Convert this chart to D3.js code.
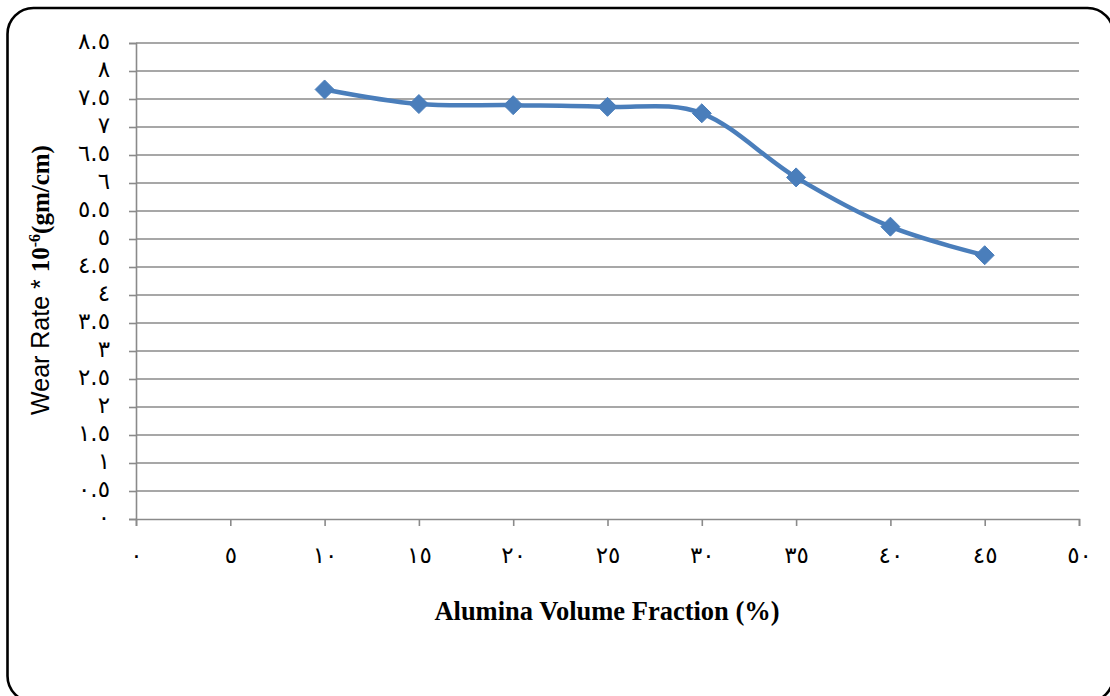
<!DOCTYPE html>
<html>
<head>
<meta charset="utf-8">
<script src="https://cdn.jsdelivr.net/npm/d3@7"></script>
<style>
  body { margin: 0; background: #fff; }
  svg { display: block; }
</style>
</head>
<body>
<div class="chart"></div>
<script>
// DATA
var fractions = [10, 15, 20, 25, 30, 35, 40, 45];
var wearRates = [7.67, 7.41, 7.39, 7.36, 7.245, 6.10, 5.22, 4.71];
var xTicks = [0, 5, 10, 15, 20, 25, 30, 35, 40, 45, 50];
var yTicks = [0, 0.5, 1, 1.5, 2, 2.5, 3, 3.5, 4, 4.5, 5, 5.5, 6, 6.5, 7, 7.5, 8, 8.5];

var width = 1110, height = 696;

// arabic-indic digits for the tick labels
var arabicDigits = '٠١٢٣٤٥٦٧٨٩';
var toArabic = function (v) {
  return String(v).replace(/[0-9]/g, function (c) { return arabicDigits[+c]; });
};

var svg = d3.select('.chart').append('svg')
  .attr('width', width)
  .attr('height', height);

// outer rounded frame
svg.append('rect')
  .attr('x', 7.5).attr('y', 8)
  .attr('width', 1106).attr('height', 694)
  .attr('rx', 26).attr('ry', 26)
  .attr('fill', '#fff')
  .attr('stroke', '#000')
  .attr('stroke-width', 2.6);

var x = d3.scaleLinear().domain([0, 50]).range([136, 1079]);
var y = d3.scaleLinear().domain([0, 8.5]).range([519, 43]);

// gridlines
svg.append('g').selectAll('line')
  .data(yTicks.filter(function (d) { return d > 0; }))
  .enter().append('line')
  .attr('x1', x(0)).attr('x2', x(50))
  .attr('y1', function (d) { return y(d); })
  .attr('y2', function (d) { return y(d); })
  .attr('stroke', '#8a8a8a')
  .attr('stroke-width', 1.6);

// axes
var yAxis = svg.append('g')
  .attr('transform', 'translate(' + x(0) + ',0)')
  .call(d3.axisLeft(y).tickValues(yTicks).tickSize(7).tickPadding(19).tickFormat(toArabic));

var xAxis = svg.append('g')
  .attr('transform', 'translate(0,' + y(0) + ')')
  .call(d3.axisBottom(x).tickValues(xTicks).tickSize(7).tickPadding(20).tickFormat(toArabic));

[xAxis, yAxis].forEach(function (a) {
  a.select('.domain').attr('stroke', '#8a8a8a').attr('stroke-width', 1.6);
  a.selectAll('.tick line').attr('stroke', '#8a8a8a').attr('stroke-width', 1.6);
  a.selectAll('.tick text')
    .attr('fill', '#000')
    .style('font-family', '"DejaVu Sans", sans-serif')
    .style('font-size', '23px')
    .style('letter-spacing', '3px');
});
xAxis.selectAll('.tick text').attr('dy', '0.72em');
yAxis.selectAll('.tick text').attr('dy', '0.22em');

// the series
var points = fractions.map(function (f, i) { return [f, wearRates[i]]; });

var line = d3.line()
  .x(function (d) { return x(d[0]); })
  .y(function (d) { return y(d[1]); })
  .curve(d3.curveCatmullRom.alpha(0));

svg.append('path')
  .datum(points)
  .attr('d', line)
  .attr('fill', 'none')
  .attr('stroke', '#4a7ebb')
  .attr('stroke-width', 4.5)
  .attr('stroke-linejoin', 'round');

svg.append('g').selectAll('path')
  .data(points)
  .enter().append('path')
  .attr('transform', function (d) { return 'translate(' + x(d[0]) + ',' + y(d[1]) + ')'; })
  .attr('d', d3.symbol().type(d3.symbolDiamond2).size(230))
  .attr('fill', '#4a7ebb')
  .attr('stroke', '#4a7ebb')
  .attr('stroke-width', 1);

// axis titles
svg.append('text')
  .attr('x', 607).attr('y', 620)
  .attr('text-anchor', 'middle')
  .style('font-family', '"Liberation Serif", "Times New Roman", serif')
  .style('font-weight', 'bold')
  .style('font-size', '26.5px')
  .text('Alumina Volume Fraction (%)');

var yTitle = svg.append('text')
  .attr('transform', 'translate(49,280) rotate(-90)')
  .attr('text-anchor', 'middle')
  .style('font-size', '25px');
yTitle.append('tspan')
  .style('font-family', '"Liberation Sans", Arial, sans-serif')
  .text('Wear Rate * ');
yTitle.append('tspan')
  .style('font-family', '"Liberation Serif", "Times New Roman", serif')
  .style('font-weight', 'bold')
  .text('10');
yTitle.append('tspan')
  .attr('dy', -9)
  .style('font-family', '"Liberation Serif", "Times New Roman", serif')
  .style('font-weight', 'bold')
  .style('font-size', '16px')
  .text('-6');
yTitle.append('tspan')
  .attr('dy', 9)
  .style('font-family', '"Liberation Serif", "Times New Roman", serif')
  .style('font-weight', 'bold')
  .text('(gm/cm)');
</script>
</body>
</html>
